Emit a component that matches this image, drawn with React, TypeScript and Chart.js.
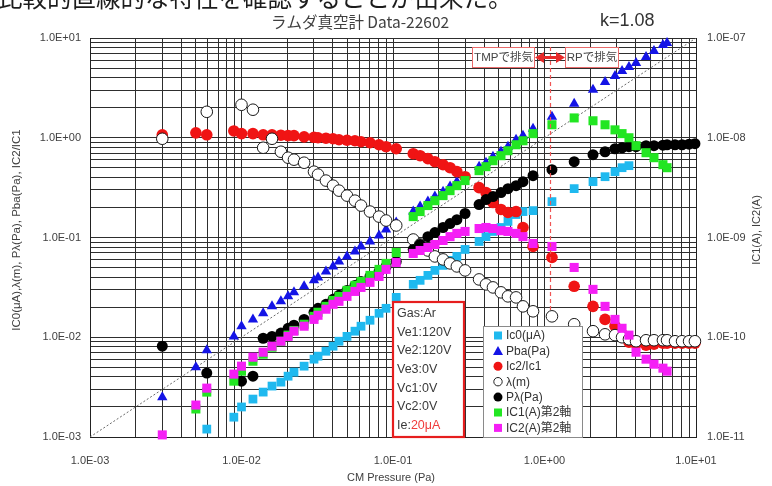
import React, { useEffect, useRef } from 'react';
import { Chart, registerables } from 'chart.js';

Chart.register(...registerables);

// CM gauge pressure (Pa) of each measurement step
const cmPressure = [
  3.0e-3, 5.0e-3, 5.9e-3, 8.9e-3, 1.0e-2, 1.19e-2, 1.39e-2, 1.59e-2,
  1.82e-2, 2.03e-2, 2.22e-2, 2.59e-2, 3.01e-2, 3.2e-2, 3.61e-2, 4.02e-2,
  4.4e-2, 4.97e-2, 5.61e-2, 6.15e-2, 7.05e-2, 8.09e-2, 9.0e-2, 0.105,
  0.136, 0.151, 0.17, 0.189, 0.214, 0.238, 0.264, 0.299,
  0.37, 0.411, 0.457, 0.516, 0.574, 0.649, 0.721, 0.84,
  1.12, 1.57, 2.09, 2.51, 2.92, 3.25, 3.61, 4.02,
  4.68, 5.28, 6.05, 6.44, 7.27, 8.09, 9.0, 9.84,
];

// Ic0 (μA)
const ic0 = [
  null, null, 1.2e-3, 1.58e-3, 2.0e-3, 2.4e-3, 2.82e-3, 3.24e-3,
  3.55e-3, 4.07e-3, 4.47e-3, 5.13e-3, 6.03e-3, 6.46e-3, 7.24e-3, 8.13e-3,
  9.12e-3, 1.02e-2, 1.15e-2, 1.29e-2, 1.48e-2, 1.74e-2, 1.95e-2, 2.51e-2,
  3.39e-2, 3.72e-2, 4.17e-2, 4.68e-2, 5.25e-2, 5.89e-2, 6.46e-2, 7.59e-2,
  9.12e-2, 0.102, 0.115, 0.126, 0.145, 0.17, 0.182, 0.186,
  0.229, 0.309, 0.363, 0.407, 0.457, 0.501, 0.525, null,
  null, null, null, null, null, null, null, null,
];

// Pba (Pa)
const pba = [
  2.51e-3, 5.01e-3, 7.41e-3, 1.02e-2, 1.29e-2, 1.51e-2, 1.74e-2, 2.04e-2,
  2.29e-2, 2.57e-2, 2.82e-2, 3.24e-2, 3.72e-2, 3.98e-2, 4.57e-2, 5.13e-2,
  5.75e-2, 6.46e-2, 7.24e-2, 8.13e-2, 9.12e-2, 0.105, 0.12, 0.141,
  0.182, 0.204, 0.229, 0.257, 0.288, 0.324, 0.363, 0.407,
  0.513, 0.562, 0.646, 0.724, 0.813, 0.955, 1.05, 1.23,
  1.62, 2.19, 3.02, 3.63, 4.17, 4.68, 5.13, 5.62,
  6.46, 7.41, 8.51, 8.91, null, null, null, null,
];

// Ic2/Ic1
const ic2OverIc1 = [
  1.07, 1.12, 1.07, 1.17, 1.1, 1.1, 1.07, 1.07,
  1.06, 1.05, 1.05, 1.02, 1.01, 1.0, 0.99, 0.977,
  0.955, 0.944, 0.933, 0.912, 0.891, 0.851, 0.813, 0.776,
  0.692, 0.661, 0.617, 0.575, 0.537, 0.501, 0.457, 0.407,
  0.316, 0.282, 0.224, 0.191, 0.178, 0.182, 0.126, 0.0813,
  0.0631, 0.0324, 0.0204, 0.0151, 0.0129, 0.0107, 0.00891, 0.00851,
  0.00832, 0.00851, 0.00871, 0.00871, 0.00871, 0.00871, 0.00871, 0.00871,
];

// λ (m)
const lambdaM = [
  0.977, null, 1.82, null, 2.14, 1.91, 0.794, 0.977,
  0.724, 0.631, 0.603, 0.562, 0.457, 0.427, 0.372, 0.331,
  0.295, 0.263, 0.234, 0.209, 0.182, 0.162, 0.148, 0.132,
  0.0955, 0.0851, 0.0741, 0.0646, 0.0603, 0.055, 0.0513, 0.0468,
  0.038, 0.0339, 0.0316, 0.0282, 0.0257, 0.0251, 0.0204, 0.0182,
  0.0162, 0.0135, 0.0115, 0.0107, 0.0105, 0.01, 0.00955, 0.00912,
  0.00933, 0.00933, 0.00933, 0.00933, 0.00912, 0.00912, 0.00912, 0.00912,
];

// Pλ (Pa)
const pLambda = [
  8.13e-3, null, 4.37e-3, null, 3.63e-3, 4.07e-3, 9.77e-3, 1.02e-2,
  1.1e-2, 1.23e-2, 1.32e-2, 1.51e-2, 1.78e-2, 1.95e-2, 2.14e-2, 2.4e-2,
  2.63e-2, 2.95e-2, 3.31e-2, 3.63e-2, 4.07e-2, 4.57e-2, 5.13e-2, 5.75e-2,
  7.59e-2, 8.51e-2, 0.102, 0.112, 0.126, 0.138, 0.151, 0.174,
  0.214, 0.24, 0.257, 0.282, 0.309, 0.331, 0.363, 0.417,
  0.479, 0.575, 0.676, 0.724, 0.776, 0.794, 0.813, 0.813,
  0.832, 0.832, 0.842, 0.851, 0.851, 0.851, 0.861, 0.871,
];

// IC1 (A), secondary axis
const ic1A = [
  null, 1.91e-11, 2.82e-11, 3.63e-11, 4.57e-11, 5.75e-11, 6.76e-11, 7.94e-11,
  9.12e-11, 1.05e-10, 1.17e-10, 1.35e-10, 1.62e-10, 1.78e-10, 2.04e-10, 2.34e-10,
  2.57e-10, 2.95e-10, 3.31e-10, 3.63e-10, 4.17e-10, 4.79e-10, 5.5e-10, 7.08e-10,
  1.62e-9, 1.82e-9, 2.09e-9, 2.34e-9, 2.63e-9, 2.95e-9, 3.31e-9, 3.72e-9,
  4.68e-9, 5.13e-9, 5.89e-9, 6.61e-9, 7.41e-9, 8.51e-9, 9.33e-9, 1.1e-8,
  1.35e-8, 1.58e-8, 1.48e-8, 1.35e-8, 1.2e-8, 1.1e-8, 1.0e-8, 8.32e-9,
  7.08e-9, 6.31e-9, 5.37e-9, 5.01e-9, null, null, null, null,
];

// IC2 (A), secondary axis
const ic2A = [
  1.05e-11, 2.09e-11, 3.09e-11, 4.27e-11, 5.13e-11, 6.31e-11, 7.08e-11, 8.13e-11,
  9.12e-11, 1.02e-10, 1.15e-10, 1.29e-10, 1.51e-10, 1.66e-10, 1.91e-10, 2.14e-10,
  2.29e-10, 2.57e-10, 2.88e-10, 3.16e-10, 3.55e-10, 4.07e-10, 4.79e-10, 5.62e-10,
  6.92e-10, 7.41e-10, 7.94e-10, 8.51e-10, 9.33e-10, 1.02e-9, 1.1e-9, 1.15e-9,
  1.23e-9, 1.26e-9, 1.23e-9, 1.17e-9, 1.15e-9, 1.1e-9, 1.02e-9, 8.71e-10,
  8.13e-10, 5.01e-10, 3.02e-10, 2.04e-10, 1.51e-10, 1.23e-10, 1.05e-10, 7.08e-11,
  6.03e-11, 5.37e-11, 4.9e-11, 4.57e-11, null, null, null, null,
];

// y = x reference line
const parityLine = [1e-3, 10];

// pressure where pumping changes from TMP to RP
const exhaustSwitchPressure = 1.08;

const conditionLines = ['Gas:Ar', 'Ve1:120V', 'Ve2:120V', 'Ve3:0V', 'Vc1:0V', 'Vc2:0V'];
const emissionLabel = 'Ie:';
const emissionValue = '20μA';

const CYAN = '#1fb9ef';
const BLUE = '#1414e6';
const RED = '#f01414';
const BLACK = '#000000';
const GREEN = '#22e622';
const MAGENTA = '#f51ef5';

const FONT = '"Liberation Sans", "Noto Sans CJK JP", Arial, sans-serif';
const JP = '"Noto Sans CJK JP", "Liberation Sans", sans-serif';

const legendItems = [
  { label: 'Ic0(μA)', shape: 'square', color: CYAN },
  { label: 'Pba(Pa)', shape: 'triangle', color: BLUE },
  { label: 'Ic2/Ic1', shape: 'circle', color: RED },
  { label: 'λ(m)', shape: 'open', color: BLACK },
  { label: 'Pλ(Pa)', shape: 'circle', color: BLACK },
  { label: 'IC1(A)第2軸', shape: 'square', color: GREEN },
  { label: 'IC2(A)第2軸', shape: 'square', color: MAGENTA },
];

const logTicks = (minExp: number, maxExp: number) => {
  const out: number[] = [];
  for (let e = minExp; e < maxExp; e++) {
    for (let m = 1; m <= 9; m++) out.push(Number((m * Math.pow(10, e)).toPrecision(6)));
  }
  out.push(Math.pow(10, maxExp));
  return out;
};

const sciLabel = (v: number) => {
  const e = Math.round(Math.log10(v));
  if (Math.abs(v / Math.pow(10, e) - 1) > 1e-6) return '';
  const sign = e < 0 ? '-' : '+';
  return `1.0E${sign}${String(Math.abs(e)).padStart(2, '0')}`;
};

const toPoints = (vals: (number | null)[]) =>
  cmPressure
    .map((x, i) => (vals[i] == null ? null : { x, y: vals[i] as number }))
    .filter((p) => p !== null) as { x: number; y: number }[];

function drawMarker(ctx: CanvasRenderingContext2D, shape: string, color: string, x: number, y: number) {
  ctx.save();
  ctx.fillStyle = color;
  ctx.strokeStyle = color;
  if (shape === 'square') {
    ctx.fillRect(x - 4, y - 4, 8, 8);
  } else if (shape === 'triangle') {
    ctx.beginPath();
    ctx.moveTo(x, y - 5);
    ctx.lineTo(x + 5, y + 4);
    ctx.lineTo(x - 5, y + 4);
    ctx.closePath();
    ctx.fill();
  } else if (shape === 'circle') {
    ctx.beginPath();
    ctx.arc(x, y, 4.5, 0, Math.PI * 2);
    ctx.fill();
  } else {
    ctx.beginPath();
    ctx.arc(x, y, 4.2, 0, Math.PI * 2);
    ctx.fillStyle = '#fff';
    ctx.fill();
    ctx.lineWidth = 1;
    ctx.strokeStyle = '#222';
    ctx.stroke();
  }
  ctx.restore();
}

const decorations = {
  id: 'decorations',
  beforeDraw(chart: any) {
    const { ctx, width, height } = chart;
    ctx.save();
    ctx.fillStyle = '#ffffff';
    ctx.fillRect(0, 0, width, height);
    ctx.restore();
  },
  afterDatasetsDraw(chart: any) {
    const { ctx, scales } = chart;
    const xs = scales.x;

    // TMP / RP switch line
    const sx = Math.round(xs.getPixelForValue(exhaustSwitchPressure)) + 0.5;
    ctx.save();
    ctx.strokeStyle = '#f05555';
    ctx.lineWidth = 1.2;
    ctx.setLineDash([4, 3]);
    ctx.beginPath();
    ctx.moveTo(sx, 47);
    ctx.lineTo(sx, 312);
    ctx.stroke();
    ctx.restore();

    // pumping labels
    const box = (x0: number, x1: number, text: string) => {
      ctx.save();
      ctx.fillStyle = '#fff';
      ctx.fillRect(x0, 47, x1 - x0, 20);
      ctx.strokeStyle = '#e86a6a';
      ctx.lineWidth = 1;
      ctx.strokeRect(x0 + 0.5, 47.5, x1 - x0, 20);
      ctx.fillStyle = '#444';
      ctx.font = `11.5px ${FONT}`;
      ctx.textAlign = 'center';
      ctx.textBaseline = 'middle';
      ctx.fillText(text, (x0 + x1) / 2 + 0.5, 58);
      ctx.restore();
    };
    box(472, 534, 'TMPで排気');
    box(565, 618, 'RPで排気');

    // double-headed arrow
    ctx.save();
    ctx.strokeStyle = '#e82a2a';
    ctx.fillStyle = '#e82a2a';
    ctx.lineWidth = 3;
    ctx.beginPath();
    ctx.moveTo(541, 57.5);
    ctx.lineTo(558, 57.5);
    ctx.stroke();
    ctx.beginPath();
    ctx.moveTo(535, 57.5);
    ctx.lineTo(544, 52);
    ctx.lineTo(544, 63);
    ctx.closePath();
    ctx.fill();
    ctx.beginPath();
    ctx.moveTo(565, 57.5);
    ctx.lineTo(556, 52);
    ctx.lineTo(556, 63);
    ctx.closePath();
    ctx.fill();
    ctx.restore();

    // measurement conditions
    ctx.save();
    ctx.fillStyle = '#fff';
    ctx.fillRect(393, 302, 71, 135);
    ctx.strokeStyle = '#e61e1e';
    ctx.lineWidth = 2.2;
    ctx.strokeRect(393, 302, 71, 135);
    ctx.font = `12.5px ${FONT}`;
    ctx.textBaseline = 'middle';
    ctx.fillStyle = '#3a3a3a';
    conditionLines.forEach((t, i) => ctx.fillText(t, 397, 313.5 + i * 18.7));
    const iy = 313.5 + conditionLines.length * 18.7;
    ctx.fillText(emissionLabel, 397, iy);
    const w = ctx.measureText(emissionLabel).width;
    ctx.fillStyle = '#f03c3c';
    ctx.fillText(emissionValue, 397 + w, iy);
    ctx.restore();

    // legend
    ctx.save();
    ctx.fillStyle = '#fff';
    ctx.fillRect(483, 326, 99, 111);
    ctx.strokeStyle = '#8a8a8a';
    ctx.lineWidth = 1;
    ctx.strokeRect(483.5, 326.5, 99, 111);
    ctx.font = `12px ${FONT}`;
    ctx.textBaseline = 'middle';
    legendItems.forEach((it, i) => {
      const y = 335.5 + i * 15.4;
      drawMarker(ctx, it.shape, it.color, 498, y);
      ctx.fillStyle = '#333';
      ctx.fillText(it.label, 506, y + 0.5);
    });
    ctx.restore();
  },
  afterDraw(chart: any) {
    const { ctx } = chart;
    ctx.save();
    // sentence running above the chart
    ctx.fillStyle = '#1c1c1c';
    ctx.font = `24.5px ${JP}`;
    ctx.textBaseline = 'alphabetic';
    ctx.fillText('比較的直線的な特性を確認することが出来た。', -2, 7);

    ctx.fillStyle = '#404040';
    ctx.font = `15.5px ${JP}`;
    ctx.textAlign = 'center';
    ctx.textBaseline = 'middle';
    ctx.fillText('ラムダ真空計 Data-22602', 360, 22);

    ctx.fillStyle = '#333';
    ctx.font = `18px ${FONT}`;
    ctx.textAlign = 'left';
    ctx.fillText('k=1.08', 600, 21);

    ctx.font = `11px ${FONT}`;
    ctx.fillStyle = '#404040';
    ctx.textAlign = 'center';
    ctx.fillText('CM Pressure (Pa)', 391, 478);

    ctx.save();
    ctx.translate(17, 230);
    ctx.rotate(-Math.PI / 2);
    ctx.font = `11.5px ${FONT}`;
    ctx.fillText('IC0(μA),λ(m), Pλ(Pa), Pba(Pa), IC2/IC1', 0, 0);
    ctx.restore();

    ctx.save();
    ctx.translate(757, 230);
    ctx.rotate(-Math.PI / 2);
    ctx.fillText('IC1(A), IC2(A)', 0, 0);
    ctx.restore();
    ctx.restore();
  },
};

const GRID = '#2e2e2e';

export default function App() {
  const ref = useRef<HTMLCanvasElement | null>(null);

  useEffect(() => {
    if (!ref.current) return;
    const xTicks = logTicks(-3, 1);
    const yTicks = logTicks(-3, 1);
    const y2Ticks = logTicks(-11, -7);
    const tickFont = { family: FONT, size: 11 };

    const scatter = (label: string, data: any, style: any, order: number, axis = 'y') => ({
      label,
      data,
      yAxisID: axis,
      showLine: false,
      clip: false,
      order,
      ...style,
    });

    const chart = new Chart(ref.current, {
      type: 'scatter',
      data: {
        datasets: [
          scatter('Ic0(μA)', toPoints(ic0), { pointStyle: 'rect', pointRadius: 6.2, backgroundColor: CYAN, borderColor: CYAN, borderWidth: 0 }, 7),
          scatter('Pba(Pa)', toPoints(pba), { pointStyle: 'triangle', pointRadius: 6, backgroundColor: BLUE, borderColor: BLUE, borderWidth: 0 }, 6),
          scatter('Ic2/Ic1', toPoints(ic2OverIc1), { pointStyle: 'circle', pointRadius: 5.8, backgroundColor: RED, borderColor: RED, borderWidth: 0 }, 5),
          scatter('λ(m)', toPoints(lambdaM), { pointStyle: 'circle', pointRadius: 5.8, backgroundColor: '#ffffff', borderColor: '#1a1a1a', borderWidth: 1 }, 4),
          scatter('Pλ(Pa)', toPoints(pLambda), { pointStyle: 'circle', pointRadius: 5.5, backgroundColor: BLACK, borderColor: BLACK, borderWidth: 0 }, 3),
          scatter('IC1(A)第2軸', toPoints(ic1A), { pointStyle: 'rect', pointRadius: 6.4, backgroundColor: GREEN, borderColor: GREEN, borderWidth: 0 }, 2, 'y2'),
          scatter('IC2(A)第2軸', toPoints(ic2A), { pointStyle: 'rect', pointRadius: 6.4, backgroundColor: MAGENTA, borderColor: MAGENTA, borderWidth: 0 }, 1, 'y2'),
          {
            label: 'y=x',
            data: parityLine.map((v) => ({ x: v, y: v })),
            showLine: true,
            borderColor: '#6a6a6a',
            borderWidth: 1,
            borderDash: [2, 2],
            pointRadius: 0,
            order: 10,
          } as any,
        ],
      },
      options: {
        animation: false,
        responsive: false,
        devicePixelRatio: 1,
        layout: { padding: { top: 38, left: 0, right: 0, bottom: 0 } },
        plugins: {
          legend: { display: false },
          tooltip: { enabled: false },
          title: { display: false },
        },
        scales: {
          x: {
            type: 'logarithmic',
            min: 1e-3,
            max: 10,
            afterBuildTicks: (s: any) => { s.ticks = xTicks.map((value) => ({ value })); },
            afterFit: (s: any) => { s.height = 49; },
            grid: { color: GRID, lineWidth: 1, drawTicks: false },
            border: { color: '#222', width: 1 },
            ticks: { autoSkip: false, maxRotation: 0, minRotation: 0, padding: 17, color: '#404040', font: tickFont, callback: (v: any) => sciLabel(Number(v)) },
          },
          y: {
            type: 'logarithmic',
            position: 'left',
            min: 1e-3,
            max: 10,
            afterBuildTicks: (s: any) => { s.ticks = yTicks.map((value) => ({ value })); },
            afterFit: (s: any) => { s.width = 90; },
            grid: { color: GRID, lineWidth: 1, drawTicks: false },
            border: { color: '#222', width: 1 },
            ticks: { autoSkip: false, padding: 9, color: '#404040', font: tickFont, callback: (v: any) => sciLabel(Number(v)) },
          },
          y2: {
            type: 'logarithmic',
            position: 'right',
            min: 1e-11,
            max: 1e-7,
            afterBuildTicks: (s: any) => { s.ticks = y2Ticks.map((value) => ({ value })); },
            afterFit: (s: any) => { s.width = 76; },
            grid: { drawOnChartArea: false, drawTicks: false },
            border: { color: '#222', width: 1 },
            ticks: { autoSkip: false, padding: 11, color: '#404040', font: tickFont, callback: (v: any) => sciLabel(Number(v)) },
          },
        },
      } as any,
      plugins: [decorations],
    });
    return () => chart.destroy();
  }, []);

  return (
    <div style={{ position: 'fixed', left: 0, top: 0, width: 772, height: 486, background: '#fff' }}>
      <canvas ref={ref} width={772} height={486} style={{ display: 'block' }} />
    </div>
  );
}
